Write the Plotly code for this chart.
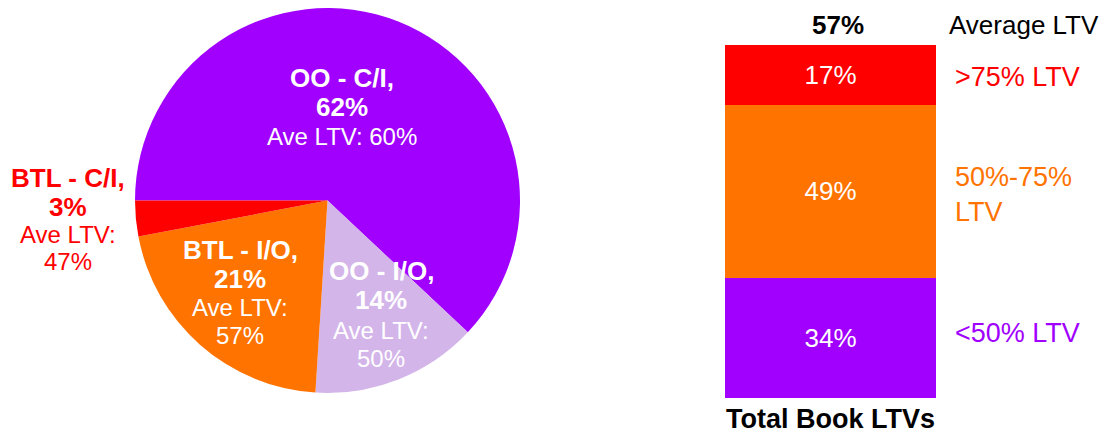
import plotly.graph_objects as go

# The page body adds an 8px margin; size the figure to the visible area
OFF = 8
W, H = 1115 - OFF, 434 - OFF

# Pie data
pie_labels = ["OO - C/I", "OO - I/O", "BTL - I/O", "BTL - C/I"]
pie_values = [62, 14, 21, 3]
pie_ltv = [60, 50, 57, 47]
pie_colors = ["#A100FF", "#D3B5E9", "#FF7300", "#FF0000"]

# Stacked bar data
bar_category = ["Total Book LTVs"]
bar_series = ["<50% LTV", "50%-75% LTV", ">75% LTV"]
bar_values = [34, 49, 17]
bar_colors = ["#A100FF", "#FF7300", "#FF0000"]
average_ltv = 57

FONT = "Arial, Liberation Sans, sans-serif"

def px(x):
    return (x - OFF) / W

def py(y):
    return 1 - (y - OFF) / H

fig = go.Figure()

fig.add_trace(go.Pie(
    labels=pie_labels, values=pie_values, sort=False, direction="clockwise",
    rotation=270, marker=dict(colors=pie_colors, line=dict(width=0)),
    textinfo="none", hoverinfo="label+percent", showlegend=False,
    domain=dict(x=[px(135), px(520)], y=[py(393), 1]),
))

for i, s in enumerate(bar_series):
    fig.add_trace(go.Bar(
        x=bar_category, y=[bar_values[i]], name=s, width=1,
        marker=dict(color=bar_colors[i], line=dict(width=0)),
        text=[f"{bar_values[i]}%"], textposition="inside", insidetextanchor="middle",
        textfont=dict(color="white", size=26, family=FONT),
        showlegend=False, xaxis="x", yaxis="y",
    ))

fig.update_layout(
    width=W, height=H, margin=dict(l=0, r=0, t=0, b=0),
    paper_bgcolor="white", plot_bgcolor="white", barmode="stack",
    font=dict(family=FONT),
    xaxis=dict(domain=[px(725), px(936)], range=[-0.5, 0.5], visible=False),
    yaxis=dict(domain=[py(398), py(45)], range=[0, 100], visible=False),
    uniformtext=dict(mode=False),
)

ann = []
def add(text, x, y, color="white", size=24, bold=False, xanchor="center", yanchor="middle"):
    t = f"<b>{text}</b>" if bold else text
    ann.append(dict(text=t, x=px(x), y=py(y), xref="paper", yref="paper",
                    showarrow=False, xanchor=xanchor, yanchor=yanchor,
                    font=dict(color=color, size=size, family=FONT)))

# Pie labels
pie_pos = {
    "OO - C/I": (342, [78, 107, 136]),
    "OO - I/O": (381, [271, 300, 330]),
    "BTL - I/O": (240, [250, 279, 307]),
    "BTL - C/I": (68, [178, 207, 234]),
}
for lab, val, ltv, col in zip(pie_labels, pie_values, pie_ltv, pie_colors):
    x, ys = pie_pos[lab]
    c = "#FF0000" if lab == "BTL - C/I" else "white"
    add(lab + ",", x, ys[0], c, 26, True)
    add(f"{val}%", x, ys[1], c, 26, True)
    if lab == "OO - C/I":
        add(f"Ave LTV: {ltv}%", x, ys[2], c, 24)
    else:
        add("Ave LTV:", x, ys[2], c, 24)
        add(f"{ltv}%", x, ys[2] + 28, c, 24)

# Bar labels
add(f"{average_ltv}%", 838, OFF, "black", 26, True, yanchor="top")
add("Average LTV", 947, OFF, "black", 26, False, "left", yanchor="top")
add(bar_series[2], 953, 77, "#FF0000", 27, False, "left")
add("50%-75%", 953, 177, "#FF7300", 27, False, "left")
add("LTV", 953, 212, "#FF7300", 27, False, "left")
add(bar_series[0], 953, 333, "#A100FF", 27, False, "left")
add(bar_category[0], 830, 419, "black", 27, True)

fig.update_layout(annotations=ann)
fig.write_html("out.html")
